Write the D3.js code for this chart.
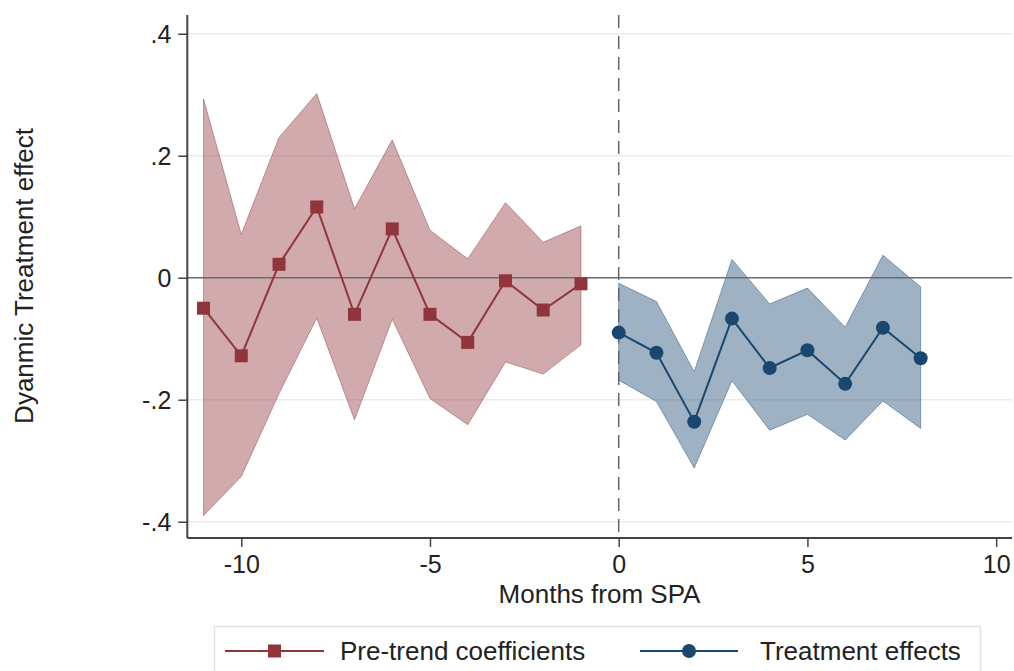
<!DOCTYPE html>
<html>
<head>
<meta charset="utf-8">
<script src="https://cdn.jsdelivr.net/npm/d3@7"></script>
<style>
  body { margin: 0; background: #fff; }
  text { font-family: "Liberation Sans", Arial, Helvetica, sans-serif; fill: #222; }
</style>
</head>
<body>
<div id="graph"></div>
<script>
// months relative to SPA
const monthsPre = [-11, -10, -9, -8, -7, -6, -5, -4, -3, -2, -1];
const monthsPost = [0, 1, 2, 3, 4, 5, 6, 7, 8];

// pre-trend coefficients + 95% CI
const preCoef  = [-0.050, -0.128, 0.022, 0.116, -0.060, 0.080, -0.060, -0.106, -0.005, -0.053, -0.010];
const preUpper = [0.293, 0.071, 0.230, 0.302, 0.113, 0.226, 0.078, 0.031, 0.123, 0.058, 0.085];
const preLower = [-0.390, -0.326, -0.190, -0.066, -0.233, -0.068, -0.198, -0.241, -0.138, -0.158, -0.110];

// treatment effects + 95% CI
const postCoef  = [-0.090, -0.123, -0.236, -0.067, -0.148, -0.119, -0.174, -0.082, -0.132];
const postUpper = [-0.009, -0.039, -0.154, 0.030, -0.043, -0.017, -0.081, 0.037, -0.015];
const postLower = [-0.168, -0.203, -0.312, -0.169, -0.250, -0.224, -0.266, -0.202, -0.247];

const xTicks = [-10, -5, 0, 5, 10];
const xTickLabels = ["-10", "-5", "0", "5", "10"];
const yTicks = [0.4, 0.2, 0, -0.2, -0.4];
const yTickLabels = [".4", ".2", "0", "-.2", "-.4"];
const seriesNames = ["Pre-trend coefficients", "Treatment effects"];

const svgWidth = 1014;
const svgHeight = 671;

const red = "#90353B";
const blue = "#1A476F";
const axisColor = "#444";

const svg = d3.select('#graph')
  .append('svg')
  .attr('width', svgWidth)
  .attr('height', svgHeight);

// scales
const x = d3.scaleLinear()
  .domain([-11.43, 10.42])
  .range([187.3, 1012]);

const y = d3.scaleLinear()
  .domain([-0.4267, 0.4307])
  .range([538, 15]);

// gridlines
svg.append('g')
  .selectAll('line')
  .data(yTicks.filter(d => d !== 0))
  .enter()
  .append('line')
  .attr('x1', x.range()[0])
  .attr('x2', x.range()[1])
  .attr('y1', d => y(d))
  .attr('y2', d => y(d))
  .attr('stroke', '#ececec')
  .attr('stroke-width', 1.5);

const pre = monthsPre.map((m, i) => ({m, c: preCoef[i], lo: preLower[i], hi: preUpper[i]}));
const post = monthsPost.map((m, i) => ({m, c: postCoef[i], lo: postLower[i], hi: postUpper[i]}));

const area = d3.area()
  .x(d => x(d.m))
  .y0(d => y(d.lo))
  .y1(d => y(d.hi));

// CI bands
svg.append('path')
  .datum(pre)
  .attr('d', area)
  .attr('fill', red)
  .attr('fill-opacity', 0.42)
  .attr('stroke', red)
  .attr('stroke-opacity', 0.45)
  .attr('stroke-width', 1);

svg.append('path')
  .datum(post)
  .attr('d', area)
  .attr('fill', blue)
  .attr('fill-opacity', 0.42)
  .attr('stroke', blue)
  .attr('stroke-opacity', 0.45)
  .attr('stroke-width', 1);

// zero line
svg.append('line')
  .attr('x1', x.range()[0])
  .attr('x2', x.range()[1])
  .attr('y1', y(0))
  .attr('y2', y(0))
  .attr('stroke', '#6a6a6a')
  .attr('stroke-width', 1.5);

// dashed line at month 0
svg.append('line')
  .attr('x1', x(0))
  .attr('x2', x(0))
  .attr('y1', y.range()[1])
  .attr('y2', y.range()[0])
  .attr('stroke', '#666')
  .attr('stroke-width', 1.5)
  .attr('stroke-dasharray', '13,8');

const line = d3.line()
  .x(d => x(d.m))
  .y(d => y(d.c));

// pre-trend line + squares
svg.append('path')
  .datum(pre)
  .attr('d', line)
  .attr('fill', 'none')
  .attr('stroke', red)
  .attr('stroke-width', 2);

svg.selectAll('.sq')
  .data(pre)
  .enter()
  .append('rect')
  .attr('class', 'sq')
  .attr('x', d => x(d.m) - 6.5)
  .attr('y', d => y(d.c) - 6.5)
  .attr('width', 13)
  .attr('height', 13)
  .attr('fill', red);

// treatment line + circles
svg.append('path')
  .datum(post)
  .attr('d', line)
  .attr('fill', 'none')
  .attr('stroke', blue)
  .attr('stroke-width', 2);

svg.selectAll('.dot')
  .data(post)
  .enter()
  .append('circle')
  .attr('class', 'dot')
  .attr('cx', d => x(d.m))
  .attr('cy', d => y(d.c))
  .attr('r', 7)
  .attr('fill', blue);

// x axis
const xAxis = svg.append('g')
  .attr('transform', `translate(0,${y.range()[0]})`)
  .call(d3.axisBottom(x).tickValues(xTicks).tickSize(9).tickPadding(8)
    .tickFormat((d, i) => xTickLabels[i]));

// y axis
const yAxis = svg.append('g')
  .attr('transform', `translate(${x.range()[0]},0)`)
  .call(d3.axisLeft(y).tickValues(yTicks).tickSize(9).tickPadding(7)
    .tickFormat((d, i) => yTickLabels[i]));

[xAxis, yAxis].forEach(ax => {
  ax.select('.domain').attr('stroke', axisColor).attr('stroke-width', 2)
    .attr('d', ax === xAxis
      ? `M${x.range()[0]},0H${x.range()[1]}`
      : `M0,${y.range()[0]}V${y.range()[1]}`);
  ax.selectAll('.tick line').attr('stroke', axisColor).attr('stroke-width', 1.5);
  ax.selectAll('.tick text')
    .attr('font-size', '25px')
    .attr('font-family', '"Liberation Sans", Arial, sans-serif')
    .attr('fill', '#222');
});
yAxis.selectAll('.tick text').attr('dy', '0.35em');

// axis titles
svg.append('text')
  .attr('x', 599.5)
  .attr('y', 603)
  .attr('text-anchor', 'middle')
  .attr('font-size', '26px')
  .text('Months from SPA');

svg.append('text')
  .attr('transform', 'translate(33,276) rotate(-90)')
  .attr('text-anchor', 'middle')
  .attr('font-size', '26px')
  .text('Dyanmic Treatment effect');

// legend
const legend = svg.append('g');
legend.append('rect')
  .attr('x', 214.5)
  .attr('y', 626.5)
  .attr('width', 766)
  .attr('height', 70)
  .attr('fill', '#fff')
  .attr('stroke', '#e2e2e2')
  .attr('stroke-width', 1.5);

const legendItems = [
  {name: seriesNames[0], color: red, shape: 'square', x0: 225, x1: 324, tx: 340},
  {name: seriesNames[1], color: blue, shape: 'circle', x0: 640, x1: 738, tx: 760}
];

legendItems.forEach(it => {
  legend.append('line')
    .attr('x1', it.x0).attr('x2', it.x1)
    .attr('y1', 651).attr('y2', 651)
    .attr('stroke', it.color).attr('stroke-width', 2);
  const cx = (it.x0 + it.x1) / 2;
  if (it.shape === 'square') {
    legend.append('rect')
      .attr('x', cx - 6.5).attr('y', 651 - 6.5)
      .attr('width', 13).attr('height', 13)
      .attr('fill', it.color);
  } else {
    legend.append('circle')
      .attr('cx', cx).attr('cy', 651).attr('r', 7)
      .attr('fill', it.color);
  }
  legend.append('text')
    .attr('x', it.tx)
    .attr('y', 660)
    .attr('font-size', '26px')
    .text(it.name);
});
</script>
</body>
</html>
